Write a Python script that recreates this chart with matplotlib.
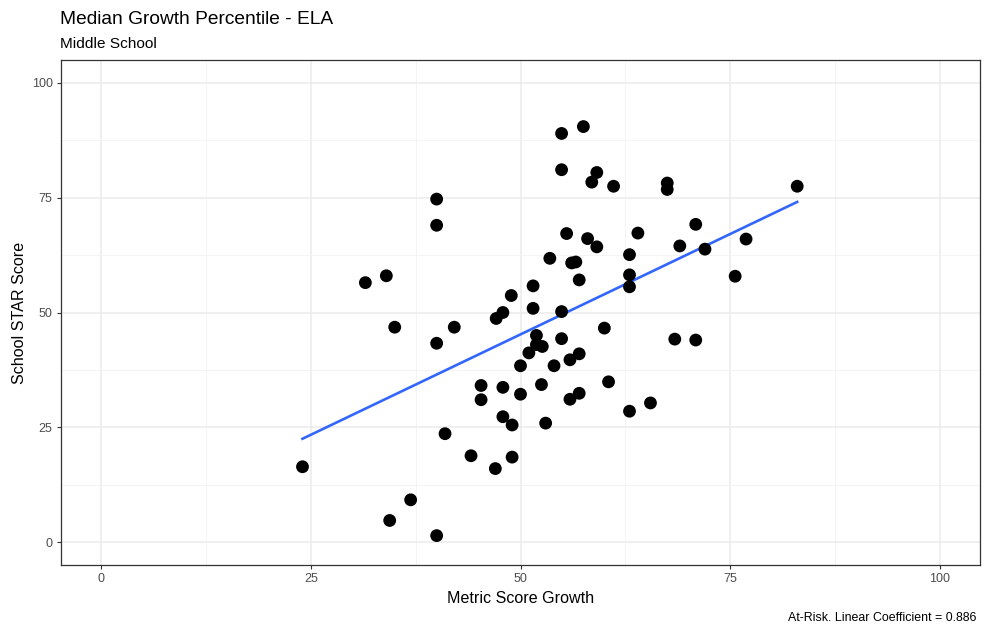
import numpy as np
import matplotlib
matplotlib.use("Agg")
import matplotlib.pyplot as plt

plt.rcParams["font.family"] = ["Liberation Sans", "DejaVu Sans"]

# Metric Score Growth (x) and School STAR Score (y)
growth = [
    24.0, 31.5, 34.0, 35.0, 34.4, 36.9, 40.0, 40.0, 40.0, 40.0,
    41.0, 42.1, 44.1, 45.3, 45.3, 47.0, 47.1, 47.9, 47.9, 47.9,
    48.9, 49.0, 49.0, 50.0, 50.0, 51.0, 51.5, 51.5, 51.9, 51.9,
    52.6, 52.5, 53.0, 53.5, 54.0, 54.9, 54.9, 54.9, 54.9, 55.5,
    56.1, 55.9, 55.9, 56.6, 57.0, 57.0, 57.0, 57.5, 58.0, 58.5,
    59.1, 59.1, 60.0, 60.5, 61.1, 63.0, 63.0, 63.0, 63.0, 64.0,
    65.5, 67.5, 67.5, 68.4, 69.0, 70.9, 70.9, 72.0, 75.6, 76.9,
    83.0,
]
star = [
    16.4, 56.5, 58.0, 46.8, 4.7, 9.2, 74.7, 69.0, 43.3, 1.4,
    23.6, 46.8, 18.8, 34.1, 31.0, 16.0, 48.7, 50.0, 33.7, 27.3,
    53.7, 25.5, 18.5, 32.2, 38.4, 41.2, 55.8, 50.9, 45.0, 43.0,
    42.6, 34.3, 25.9, 61.8, 38.4, 89.0, 81.1, 50.2, 44.3, 67.2,
    60.8, 39.7, 31.1, 61.0, 57.1, 41.0, 32.4, 90.5, 66.1, 78.4,
    80.5, 64.3, 46.6, 34.9, 77.5, 62.6, 58.2, 55.6, 28.5, 67.3,
    30.3, 78.2, 76.8, 44.2, 64.5, 69.2, 44.0, 63.8, 57.9, 66.0,
    77.5,
]
ticks = [0, 25, 50, 75, 100]

x = np.array(growth)
y = np.array(star)

fig = plt.figure(figsize=(9.86, 6.29), dpi=100)
ax = fig.add_axes([61 / 986, 1 - 565 / 629, (980 - 61) / 986, (565 - 60) / 629])

# theme_bw-like look
ax.set_xlim(-4.8, 104.8)
ax.set_ylim(-5, 105)
ax.set_xticks(ticks)
ax.set_yticks(ticks)
ax.set_xticks([12.5, 37.5, 62.5, 87.5], minor=True)
ax.set_yticks([12.5, 37.5, 62.5, 87.5], minor=True)
ax.grid(which="major", color="#ebebeb", lw=1.1)
ax.grid(which="minor", color="#f2f2f2", lw=0.6)
ax.set_axisbelow(True)
for s in ax.spines.values():
    s.set_color("#333333")
    s.set_linewidth(0.9)
ax.tick_params(which="major", length=3, color="#333333", labelsize=9,
               labelcolor="#4d4d4d", pad=3)
ax.tick_params(which="minor", length=0)

# linear fit line over the data range
slope, icpt = np.polyfit(x, y, 1)
xs = np.array([x.min(), x.max()])
ax.plot(xs, icpt + slope * xs, color="#3366ff", lw=1.9, zorder=2)

ax.scatter(x, y, s=85, color="black", edgecolors="none", zorder=3)

ax.set_xlabel("Metric Score Growth", fontsize=11.6, labelpad=4)
ax.set_ylabel("School STAR Score", fontsize=11.6, labelpad=3)

fig.text(60 / 986, 1 - 19 / 629, "Median Growth Percentile - ELA",
         fontsize=13.8, va="center", ha="left")
fig.text(60 / 986, 1 - 44 / 629, "Middle School",
         fontsize=11.1, va="center", ha="left")
fig.text(976 / 986, 1 - 618 / 629, "At-Risk. Linear Coefficient = 0.886",
         fontsize=8.9, va="center", ha="right")

fig.savefig("out.png", dpi=100)
